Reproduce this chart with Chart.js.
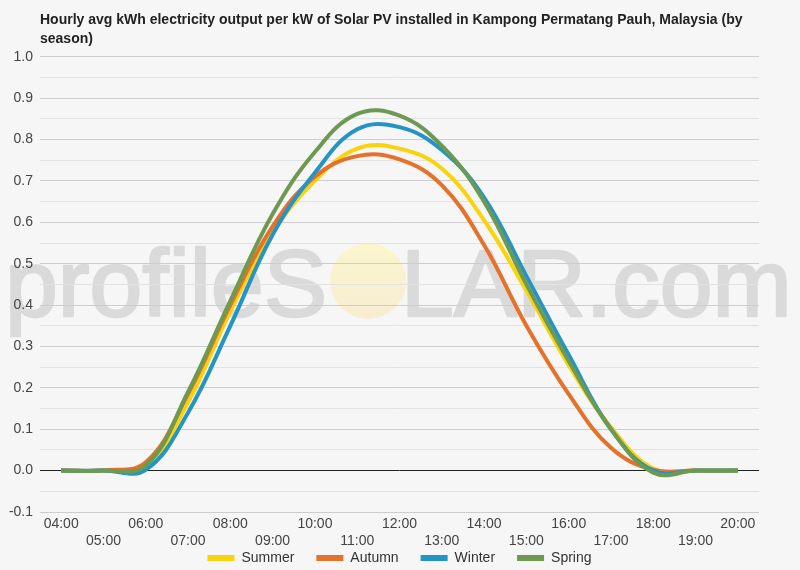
<!DOCTYPE html>
<html lang="en">
<head>
<meta charset="UTF-8">
<title>Solar PV output by season</title>
<script src="https://cdn.jsdelivr.net/npm/chart.js"></script>
<style>
    body { margin: 0; background: #f6f6f6; }
    #wrap { width: 800px; height: 570px; }
</style>
</head>
<body>
<div id="wrap"><canvas id="pvChart" width="800" height="570"></canvas></div>
<script>
    // hourly values
    const hours = ['04:00', '05:00', '06:00', '07:00', '08:00', '09:00', '10:00', '11:00', '12:00',
        '13:00', '14:00', '15:00', '16:00', '17:00', '18:00', '19:00', '20:00'];
    const summer = [0, 0, 0.01, 0.165, 0.385, 0.575, 0.70, 0.778, 0.778, 0.73, 0.605, 0.435, 0.255, 0.105, 0.005, 0, 0];
    const autumn = [0, 0.001, 0.02, 0.185, 0.40, 0.59, 0.71, 0.76, 0.752, 0.69, 0.545, 0.35, 0.185, 0.055, 0.002, 0, 0];
    const winter = [0, 0, 0.002, 0.14, 0.35, 0.57, 0.72, 0.825, 0.83, 0.775, 0.66, 0.47, 0.28, 0.10, 0, 0, 0];
    const spring = [0, 0, 0.012, 0.19, 0.41, 0.62, 0.77, 0.862, 0.858, 0.785, 0.65, 0.45, 0.265, 0.10, -0.005, 0, 0];

    const titleLines = [
        'Hourly avg kWh electricity output per kW of Solar PV installed in Kampong Permatang Pauh, Malaysia (by',
        'season)'
    ];

    // even hours on the first row, odd hours on the second
    const xLabels = hours.map((h, i) => i % 2 === 0 ? [h, ''] : ['', h]);

    const fontFamily = "Arial, 'Liberation Sans', sans-serif";

    // background + light watermark, drawn before the grid
    const backdrop = {
        id: 'backdrop',
        beforeDraw(chart) {
            const ctx = chart.ctx;
            ctx.save();
            ctx.fillStyle = '#f6f6f6';
            ctx.fillRect(0, 0, chart.width, chart.height);

            ctx.font = '95px ' + fontFamily;
            ctx.textBaseline = 'alphabetic';
            ctx.fillStyle = '#dadada';
            ctx.strokeStyle = '#dadada';
            ctx.lineWidth = 2.5;
            ctx.lineJoin = 'round';
            const left = 'profileS';
            const right = 'LAR.com';
            const x0 = 5, base = 316;
            const lw = ctx.measureText(left).width;
            const ow = ctx.measureText('O').width;
            ctx.fillText(left, x0, base);
            ctx.strokeText(left, x0, base);
            ctx.fillText(right, x0 + lw + ow, base);
            ctx.strokeText(right, x0 + lw + ow, base);

            const cx = x0 + lw + ow / 2 + 4, cy = 281, r = 38;
            const g = ctx.createLinearGradient(0, cy - r, 0, cy + r);
            g.addColorStop(0, '#faf6cc');
            g.addColorStop(1, '#f8ecd2');
            ctx.fillStyle = g;
            ctx.beginPath();
            ctx.arc(cx, cy, r, 0, Math.PI * 2);
            ctx.fill();
            ctx.restore();
        }
    };

    // the legend keeps a thin layout box; after layout its box is stretched
    // upwards so the row sits where the reference has it
    const legendShift = {
        id: 'legendShift',
        afterLayout(chart) {
            const lg = chart.legend;
            if (!lg) return;
            lg.top = 529;
            lg.bottom = chart.height;
            lg.height = lg.bottom - lg.top;
        }
    };

    const ctx = document.getElementById('pvChart').getContext('2d');
    const pvChart = new Chart(ctx, {
        type: 'line',
        data: {
            labels: xLabels,
            datasets: [
                { label: 'Summer', data: summer, borderColor: '#fbd30d', backgroundColor: '#fbd30d', order: 3 },
                { label: 'Autumn', data: autumn, borderColor: '#e5722a', backgroundColor: '#e5722a', order: 2 },
                { label: 'Winter', data: winter, borderColor: '#2394c3', backgroundColor: '#2394c3', order: 1 },
                { label: 'Spring', data: spring, borderColor: '#6c9a52', backgroundColor: '#6c9a52', order: 0 }
            ]
        },
        options: {
            responsive: false,
            animation: false,
            devicePixelRatio: 1,
            layout: { padding: { left: 4, right: 41, top: 0, bottom: 0 } },
            elements: {
                point: { radius: 0 },
                line: { borderWidth: 4, tension: 0.4, fill: false }
            },
            scales: {
                x: {
                    offset: true,
                    grid: { display: false, drawTicks: false },
                    border: { display: false },
                    afterFit(scale) { scale.height = 38; },
                    ticks: {
                        autoSkip: false,
                        maxRotation: 0,
                        color: '#444',
                        padding: 3,
                        font: { family: fontFamily, size: 14, lineHeight: 1.25 }
                    }
                },
                y: {
                    min: -0.1,
                    max: 1.0,
                    border: { display: false },
                    afterFit(scale) { scale.width = 36; },
                    grid: {
                        drawTicks: false,
                        color: c => {
                            const v = Math.round(c.tick.value * 20);
                            if (v === 0) return '#222';
                            return v % 2 === 0 ? '#cdcdcd' : '#e2e2e2';
                        }
                    },
                    ticks: {
                        stepSize: 0.05,
                        color: '#444',
                        padding: 7,
                        font: { family: fontFamily, size: 14 },
                        callback: v => Math.round(v * 20) % 2 === 0 ? v.toFixed(1) : ''
                    }
                }
            },
            plugins: {
                title: {
                    display: true,
                    fullSize: false,
                    align: 'start',
                    text: titleLines,
                    color: '#222',
                    font: { family: fontFamily, size: 14, weight: 'bold', lineHeight: 1.35 },
                    padding: { top: 11, bottom: 8 }
                },
                legend: {
                    position: 'bottom',
                    fullSize: false,
                    maxHeight: 20,
                    labels: {
                        boxWidth: 27,
                        boxHeight: 6,
                        padding: 22,
                        color: '#333',
                        font: { family: fontFamily, size: 14 },
                        sort: (a, b) => a.datasetIndex - b.datasetIndex,
                        generateLabels: chart => Chart.defaults.plugins.legend.labels.generateLabels(chart)
                            .map(l => Object.assign(l, { lineWidth: 0, fillStyle: l.strokeStyle }))
                    }
                },
                tooltip: { enabled: false }
            }
        },
        plugins: [backdrop, legendShift]
    });
</script>
</body>
</html>
